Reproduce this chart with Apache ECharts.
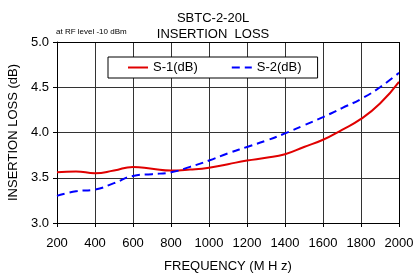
<!DOCTYPE html>
<html>
<head>
<meta charset="utf-8">
<script src="https://cdn.jsdelivr.net/npm/echarts@6/dist/echarts.min.js"></script>
<style>
  html, body { margin: 0; padding: 0; background: #fff; }
  #chart { width: 413px; height: 274px; }
</style>
</head>
<body>
<div id="chart"></div>
<script>
// frequency points (MHz)
const freq = [200, 300, 400, 500, 600, 700, 800, 900, 1000, 1100, 1200, 1300, 1400, 1500, 1600, 1700, 1800, 1900, 2000];
// S-1 insertion loss (dB)
const s1 = [3.56, 3.57, 3.55, 3.58, 3.62, 3.60, 3.58, 3.59, 3.61, 3.65, 3.69, 3.72, 3.76, 3.84, 3.92, 4.03, 4.15, 4.32, 4.56];
// S-2 insertion loss (dB)
const s2 = [3.30, 3.35, 3.37, 3.44, 3.52, 3.54, 3.56, 3.62, 3.69, 3.77, 3.84, 3.91, 3.99, 4.08, 4.17, 4.27, 4.37, 4.50, 4.66];

const font = 'Liberation Sans, Arial, sans-serif';
const chart = echarts.init(document.getElementById('chart'));

const pairs = (ys) => freq.map((f, i) => [f, ys[i]]);

chart.setOption({
  backgroundColor: '#fff',
  animation: false,
  title: [
    {
      text: 'SBTC-2-20L\nINSERTION  LOSS',
      left: 208, top: 5, textAlign: 'center',
      textStyle: { fontFamily: font, fontSize: 13, fontWeight: 'normal', color: '#000', lineHeight: 16 }
    },
    {
      text: 'at RF level -10 dBm',
      left: 51, top: 23,
      textStyle: { fontFamily: font, fontSize: 8, fontWeight: 'normal', color: '#000' }
    }
  ],
  grid: { left: 57, right: 14, top: 42, bottom: 51, outerBoundsMode: 'none' },
  legend: {
    left: 108, top: 57,
    padding: [4, 16, 4, 19],
    itemWidth: 20, itemHeight: 14, itemGap: 33,
    backgroundColor: '#fff', borderColor: '#000', borderWidth: 1,
    itemStyle: { color: 'rgba(0,0,0,0)', borderColor: 'rgba(0,0,0,0)', borderWidth: 0 },
    textStyle: { fontFamily: font, fontSize: 13, color: '#000' },
    data: ['S-1(dB)', 'S-2(dB)']
  },
  xAxis: {
    type: 'value', min: 200, max: 2000, interval: 200,
    name: 'FREQUENCY (M H z)', nameLocation: 'middle', nameGap: 37,
    nameTextStyle: { fontFamily: font, fontSize: 13, color: '#000' },
    axisLine: { lineStyle: { color: '#000', width: 1 } },
    axisTick: { show: true, length: 4, lineStyle: { color: '#000' } },
    axisLabel: { fontFamily: font, fontSize: 13, color: '#000', margin: 14, formatter: (v) => String(v) },
    splitLine: { show: true, lineStyle: { color: '#333', width: 1 } }
  },
  yAxis: {
    type: 'value', min: 3, max: 5, interval: 0.5,
    name: 'INSERTION LOSS (dB)', nameLocation: 'middle', nameGap: 33,
    nameTextStyle: { fontFamily: font, fontSize: 13, color: '#000' },
    axisLine: { show: true, lineStyle: { color: '#000', width: 1 } },
    axisTick: { show: true, length: 4, lineStyle: { color: '#000' } },
    axisLabel: { fontFamily: font, fontSize: 13, color: '#000', margin: 8, formatter: (v) => v.toFixed(1) },
    splitLine: { show: true, lineStyle: { color: '#333', width: 1 } }
  },
  series: [
    {
      name: 'S-1(dB)', type: 'line', smooth: true, symbol: 'none',
      data: pairs(s1),
      lineStyle: { color: '#e00000', width: 2 },
      itemStyle: { color: '#e00000' }
    },
    {
      name: 'S-2(dB)', type: 'line', smooth: true, symbol: 'none',
      data: pairs(s2),
      lineStyle: { color: '#0000ff', width: 2, type: [8, 5] },
      itemStyle: { color: '#0000ff' }
    },
    {
      // right and top frame of the plot
      type: 'line', silent: true, symbol: 'none', data: [],
      markLine: {
        silent: true, symbol: 'none', label: { show: false },
        lineStyle: { color: '#000', width: 1, type: 'solid' },
        data: [{ xAxis: 2000 }, { yAxis: 5 }]
      }
    }
  ]
});
</script>
</body>
</html>
